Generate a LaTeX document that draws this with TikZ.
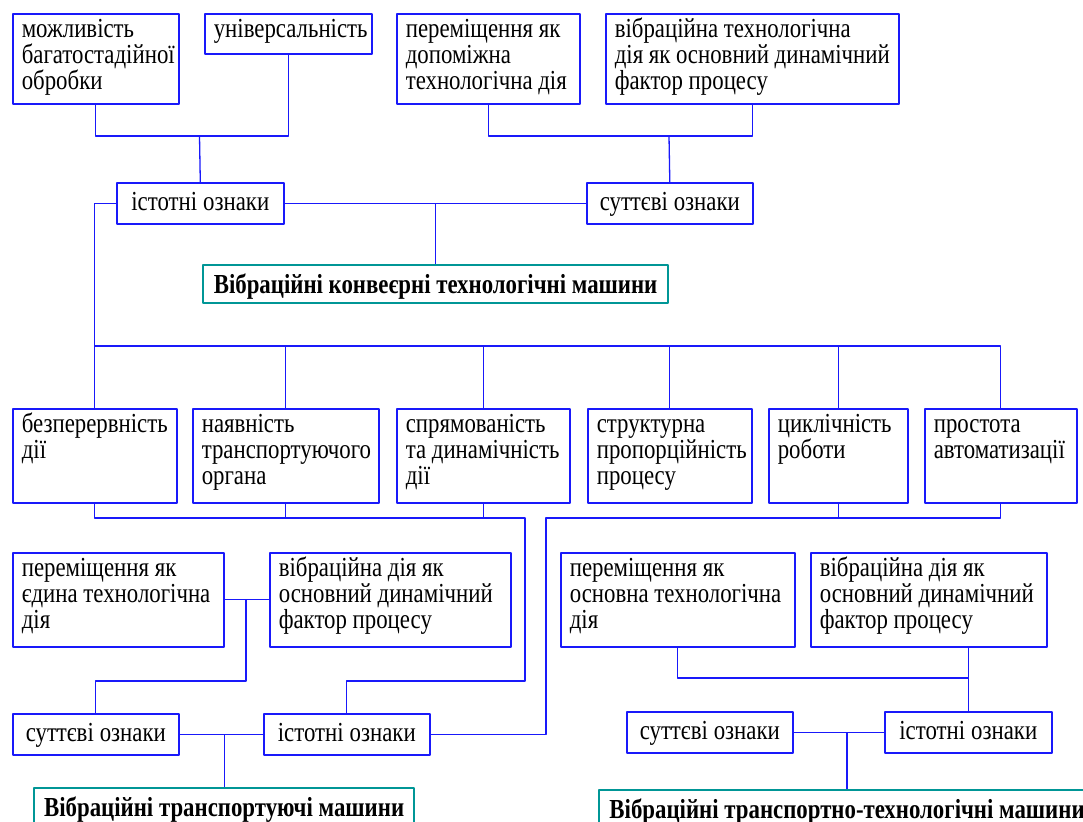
\documentclass[tikz,border=0pt]{standalone}
\usepackage{fontspec}
\setmainfont[FakeStretch=0.83]{Liberation Serif}
\definecolor{lineblue}{RGB}{25,25,250}
\definecolor{titleteal}{RGB}{0,150,150}
\newcommand{\signfont}{\fontsize{27.5}{26}\selectfont}

\begin{document}
\begin{tikzpicture}[x=1pt, y=-1pt, line join=round,
  box/.style={draw=lineblue, line width=1.6pt, anchor=north west, inner xsep=9pt, inner ysep=0pt, align=left, font=\signfont, text height=24pt, execute at begin node={\spaceskip=0pt\xspaceskip=0pt}},
  tall/.style={text depth=66pt},
  taller/.style={text depth=70pt},
  tag/.style={box, align=center, text height=28pt, text depth=13pt},
  title/.style={draw=titleteal, line width=2.2pt, anchor=north west, inner xsep=10pt, inner ysep=0pt, font=\bfseries\signfont, text height=28pt, text depth=10pt},
  wire/.style={draw=lineblue, line width=1.3pt}]
\useasboundingbox (0,0) rectangle (1083,821);

\node[box, tall, text width=148pt] (A1) at (12,13) {можливість\\багатостадійної\\обробки};
\node[box, text depth=16pt, text width=149pt] (A2) at (204,13) {універсальність};
\node[box, tall, text width=165pt] (A3) at (396,13) {переміщення як\\допоміжна\\технологічна дія};
\node[box, tall, text width=275pt] (A4) at (605,13) {вібраційна технологічна\\дія як основний динамічний\\фактор процесу};

\node[tag, text width=149pt] (S1) at (116,182) {істотні ознаки};
\node[tag, text width=148pt] (S2) at (586,182) {суттєві ознаки};
\node[title, minimum width=465pt] (T1) at (202,264) {Вібраційні конвеєрні технологічні машини};

\node[box, taller, text width=146pt] (B1) at (12,408) {безперервність\\дії};
\node[box, taller, text width=168pt] (B2) at (192,408) {наявність\\транспортуючого\\органа};
\node[box, taller, text width=155pt] (B3) at (396,408) {спрямованість\\та динамічність\\дії};
\node[box, taller, text width=146pt] (B4) at (587,408) {структурна\\пропорційність\\процесу};
\node[box, taller, text width=121pt] (B5) at (768,408) {циклічність\\роботи};
\node[box, taller, text width=134pt] (B6) at (924,408) {простота\\автоматизації};

\node[box, taller, text width=193pt] (C1) at (12,552) {переміщення як\\єдина технологічна\\дія};
\node[box, taller, text width=223pt] (C2) at (269,552) {вібраційна дія як\\основний динамічний\\фактор процесу};
\node[box, taller, text width=216pt] (C3) at (560,552) {переміщення як\\основна технологічна\\дія};
\node[box, taller, text width=218pt] (C4) at (810,552) {вібраційна дія як\\основний динамічний\\фактор процесу};

\node[tag, text width=148pt] (D1) at (12,713) {суттєві ознаки};
\node[tag, text width=148pt] (D2) at (263,713) {істотні ознаки};
\node[tag, text width=148pt] (D3) at (626,711) {суттєві ознаки};
\node[tag, text width=149pt] (D4) at (884,711) {істотні ознаки};
\node[title, minimum width=380pt] (T2) at (33,787) {Вібраційні транспортуючі машини};
\node[title, minimum width=496pt] (T3) at (598,789) {Вібраційні транспортно-технологічні машини};

\coordinate (j1) at (199.5,136);
\coordinate (j2) at (669,136);
\coordinate (bus) at (0,346);
\coordinate (k1) at (525,518);
\coordinate (k2) at (525,681);
\coordinate (k3) at (546,518);
\coordinate (m1) at (246,599);
\coordinate (m2) at (246,681);
\coordinate (m3) at (968,678);

\draw[wire] (A1.south) |- (j1) -| (A2.south);
\draw[wire] (j1) -- (S1.north);
\draw[wire] (A3.south) |- (j2) -| (A4.south);
\draw[wire] (j2) -- (S2.north);
\draw[wire] (S1.east) -- (S2.west);
\draw[wire] (S1.east -| T1.north) -- (T1.north);

\draw[wire] (S1.west) -| (B1.north);
\draw[wire] (B1.north |- bus) -| (B6.north);
\foreach \i in {2,3,4,5}
  \draw[wire] (B\i.north |- bus) -- (B\i.north);

\draw[wire] (B1.south) |- (k1) -- (k2) -| (D2.north);
\draw[wire] (B2.south) -- (B2.south |- k1);
\draw[wire] (B3.south) -- (B3.south |- k1);
\draw[wire] (B6.south) |- (k3) |- (D2.east);
\draw[wire] (B5.south) -- (B5.south |- k3);

\draw[wire] (C1.east) -- (C2.west);
\draw[wire] (m1) -- (m2) -| (D1.north);
\draw[wire] (D1.east) -- (D2.west);
\draw[wire] (D1.east -| T2.north) -- (T2.north);

\draw[wire] (C3.south) |- (m3);
\draw[wire] (C4.south -| D4.north) -- (D4.north);
\draw[wire] (D3.east) -- (D4.west);
\draw[wire] (D3.east -| T3.north) -- (T3.north);
\end{tikzpicture}
\end{document}
